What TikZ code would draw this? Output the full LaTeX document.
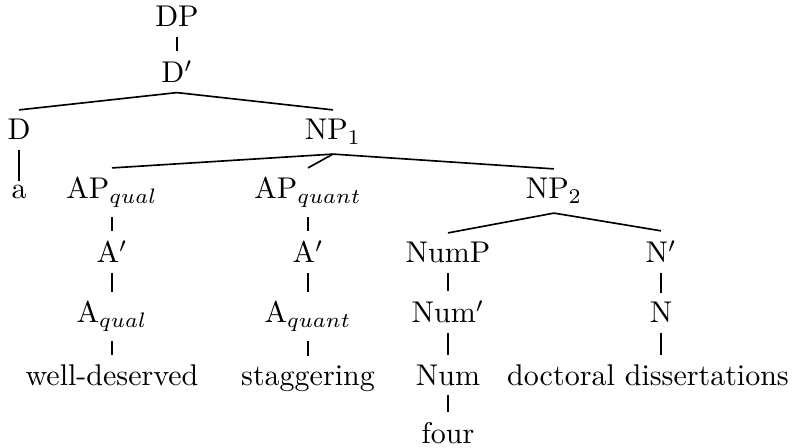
\documentclass[tikz,border=0pt]{standalone}
\begin{document}
\begin{tikzpicture}[x=0.33333pt, y=-0.33333pt,
  lbl/.style={anchor=base, inner xsep=0pt, inner ysep=3pt, font=\normalsize},
  edge/.style={line width=0.55pt}]
\path[use as bounding box] (0,0) rectangle (803,448);

% row 1-2
\node[lbl] (DP)   at (177,27)  {DP};
\node[lbl] (Dbar) at (177,83)  {D$'$};
% row 3
\node[lbl] (D)    at (19,140)  {D};
\node[lbl] (NP1)  at (333,140) {NP$_1$};
% row 4
\node[lbl, inner ysep=1.3pt] (a) at (19,199) {a};
\node[lbl] (APql) at (112,199) {AP$_{qual}$};
\node[lbl] (APqt) at (308,199) {AP$_{quant}$};
\node[lbl] (NP2)  at (554,199) {NP$_2$};
% row 5
\node[lbl] (Abar1) at (112,263) {A$'$};
\node[lbl] (Abar2) at (308,263) {A$'$};
\node[lbl] (NumP)  at (448,263) {NumP};
\node[lbl] (Nbar)  at (661,263) {N$'$};
% row 6
\node[lbl] (Aql)   at (112,323) {A$_{qual}$};
\node[lbl] (Aqt)   at (308,323) {A$_{quant}$};
\node[lbl] (Numbar) at (448,323) {Num$'$};
\node[lbl] (N)     at (661,323) {N};
% row 7
\node[lbl] (wd)    at (112,385) {well-deserved};
\node[lbl] (stag)  at (308,385) {staggering};
\node[lbl] (Num)   at (448,385) {Num};
\node[lbl] (dd)    at (648,385) {doctoral dissertations};
% row 8
\node[lbl] (four)  at (448,443) {four};

% branches
\draw[edge] (DP.south) -- (Dbar.north);
\draw[edge] (Dbar.south) -- (D.north);
\draw[edge] (Dbar.south) -- (NP1.north);
\draw[edge] (D.south) -- (a.north);
\draw[edge] (NP1.south) -- (APql.north);
\draw[edge] (NP1.south) -- (APqt.north);
\draw[edge] (NP1.south) -- (NP2.north);
\draw[edge] (APql.south) -- (Abar1.north);
\draw[edge] (APqt.south) -- (Abar2.north);
\draw[edge] (Abar1.south) -- (Aql.north);
\draw[edge] (Abar2.south) -- (Aqt.north);
\draw[edge] (Aql.south) -- (wd.north);
\draw[edge] (Aqt.south) -- (stag.north);
\draw[edge] (NP2.south) -- (NumP.north);
\draw[edge] (NP2.south) -- (Nbar.north);
\draw[edge] (NumP.south) -- (Numbar.north);
\draw[edge] (Numbar.south) -- (Num.north);
\draw[edge] (Num.south) -- (four.north);
\draw[edge] (Nbar.south) -- (N.north);
\draw[edge] (N.south) -- (N.south |- dd.north);
\end{tikzpicture}
\end{document}
